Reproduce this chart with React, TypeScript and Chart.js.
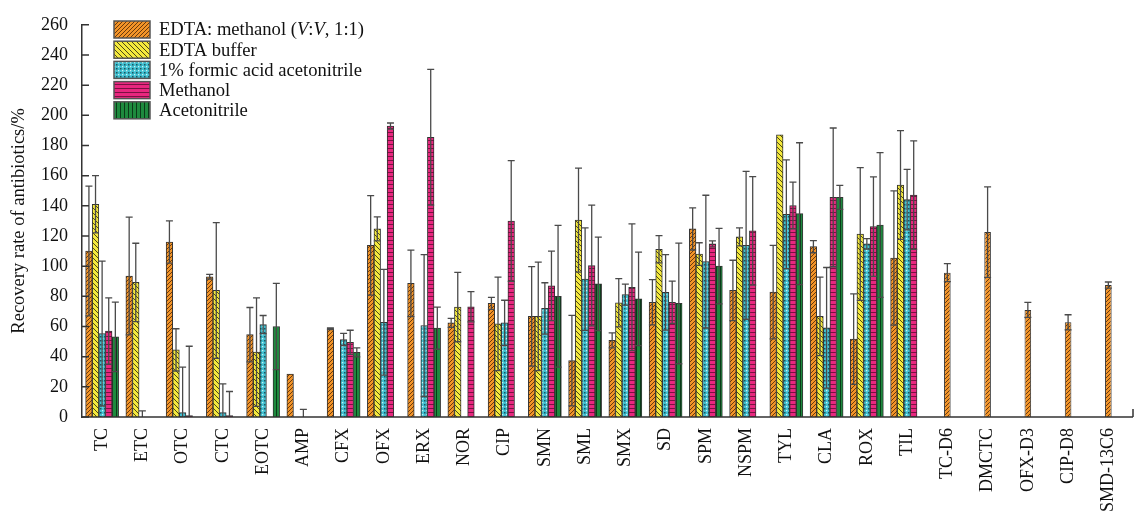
import { useEffect, useRef } from "react";
import { Chart, registerables } from "chart.js";
Chart.register(...registerables);

const categories = ["TC", "ETC", "OTC", "CTC", "EOTC", "AMP", "CFX", "OFX", "ERX", "NOR", "CIP", "SMN", "SML", "SMX", "SD", "SPM", "NSPM", "TYL", "CLA", "ROX", "TIL", "TC-D6", "DMCTC", "OFX-D3", "CIP-D8", "SMD-13C6"];
const yTickValues = [0, 20, 40, 60, 80, 100, 120, 140, 160, 180, 200, 220, 240, 260];

const seriesNames = ["EDTA: methanol (V:V, 1:1)", "EDTA buffer", "1% formic acid acetonitrile", "Methanol", "Acetonitrile"];

// EDTA: methanol (all 26 categories)
const edtaMethanol = [110, 93.5, 116, 93, 54.6, 28.4, 58.5, 113.8, 88.6, 62.4, 75.3, 66.7, 37.4, 50.8, 76.1, 124.7, 83.9, 82.8, 112.9, 51.6, 105.4, 95.7, 122.6, 71, 62.8, 87.5];
const edtaMethanolErr = [43, 39, 14, 1.5, 18, 0, 0.5, 33, 22, 3, 4, 33, 30, 5, 15, 14, 20, 31, 4, 30, 44.5, 6, 30, 5, 5, 2];

const edtaBuffer = [141, 89.2, 44.5, 83.9, 43, null, null, 124.7, null, 72.9, 61.7, 66.7, 130.5, 75.7, 111.2, 108, 119.4, 187.1, 66.7, 121.3, 153.8, null, null, null, null, null];
const edtaBufferErr = [19, 26, 14, 45, 36, null, null, 8, null, 23, 31, 36, 34.5, 16, 9, 7.5, 6, 0, 26, 44, 36, null, null, null, null, null];

const formicAcn = [55.3, 0, 3, 3, 61.3, 0, 51.4, 62.8, 60.6, null, 62.4, 72, 91.4, 81.1, 82.6, 103, 113.8, 134.4, 59.1, 114.8, 144.1, null, null, null, null, null];
const formicAcnErr = [48, 4, 30, 19, 6, 5, 4, 35, 47, null, 15, 17, 34, 7, 25, 44, 49, 36, 40, 3.5, 20, null, null, null, null, null];

const methanol = [57, null, 0.9, 0.9, null, null, 49.5, 192.9, 185.4, 73.1, 129.9, 86.9, 100.4, 86, 76.1, 114.8, 123.4, 140.2, 145.6, 126.2, 147.1, null, null, null, null, null];
const methanolErr = [22, null, 46, 16, null, null, 8, 2, 45, 10, 40, 23, 40, 42, 14, 2, 36, 15.5, 46, 33, 36, null, null, null, null, null];

const acetonitrile = [53.1, null, null, null, 60, null, 42.8, null, 58.9, null, null, 80, 88.2, 78.3, 75.3, 100, null, 134.8, 145.6, 127.3, null, null, null, null, null, null];
const acetonitrileErr = [23, null, null, null, 28.6, null, 3, null, 14, null, null, 47, 31, 31, 40, 25, null, 47, 8, 48, null, null, null, null, null, null];

// the last five categories (labelled standards) only carry a single centred bar
const singleBarFrom = 21;

const FONT = "'Liberation Serif', 'Times New Roman', serif";

function makePattern(w: number, h: number, bg: string, draw: (g: CanvasRenderingContext2D, w: number, h: number) => void) {
  const c = document.createElement("canvas");
  c.width = w;
  c.height = h;
  const g = c.getContext("2d")!;
  g.fillStyle = bg;
  g.fillRect(0, 0, w, h);
  draw(g, w, h);
  return g.createPattern(c, "repeat")!;
}

function buildPatterns() {
  const orange = makePattern(4, 4, "#F39428", (g, w, h) => {
    g.strokeStyle = "#6a3a0c";
    g.lineWidth = 1;
    for (const o of [-w, 0, w]) {
      g.beginPath();
      g.moveTo(o, h);
      g.lineTo(o + w, 0);
      g.stroke();
    }
  });
  const yellow = makePattern(5, 5, "#F4E93C", (g, w, h) => {
    g.strokeStyle = "#4d4718";
    g.lineWidth = 1;
    for (const o of [-w, 0, w]) {
      g.beginPath();
      g.moveTo(o, 0);
      g.lineTo(o + w, h);
      g.stroke();
    }
  });
  const cyan = makePattern(4, 4, "#40BFCF", (g) => {
    g.fillStyle = "#1d5560";
    g.fillRect(0, 0, 1.5, 1.5);
    g.fillStyle = "#c8f2f6";
    g.fillRect(2, 2, 1.3, 1.3);
  });
  const magenta = makePattern(4, 4, "#E8277F", (g) => {
    g.fillStyle = "#7a1242";
    g.fillRect(0, 0, 4, 1);
  });
  const green = makePattern(4, 4, "#1E8A3E", (g) => {
    g.fillStyle = "#0b3a19";
    g.fillRect(0, 0, 1, 4);
  });
  return [orange, yellow, cyan, magenta, green];
}

const errorBarPlugin = {
  id: "errorBars",
  afterDatasetsDraw(chart: any) {
    const ctx = chart.ctx as CanvasRenderingContext2D;
    const ys = chart.scales.y;
    const area = chart.chartArea;
    ctx.save();
    ctx.beginPath();
    ctx.rect(area.left, area.top - 10, area.right - area.left, area.bottom - area.top + 10);
    ctx.clip();
    ctx.strokeStyle = "#4a4a4a";
    ctx.lineWidth = 1.3;
    chart.data.datasets.forEach((ds: any, i: number) => {
      const meta = chart.getDatasetMeta(i);
      if (meta.hidden) return;
      meta.data.forEach((el: any, j: number) => {
        const v = ds.data[j];
        const e = ds.errors ? ds.errors[j] : null;
        if (v == null || !e) return;
        const x = el.x;
        const yt = ys.getPixelForValue(v + e);
        const yb = ys.getPixelForValue(Math.max(v - e, 0));
        ctx.beginPath();
        ctx.moveTo(x, yt);
        ctx.lineTo(x, yb);
        ctx.moveTo(x - 3.5, yt);
        ctx.lineTo(x + 3.5, yt);
        if (v - e > 0) {
          ctx.moveTo(x - 3.5, yb);
          ctx.lineTo(x + 3.5, yb);
        }
        ctx.stroke();
      });
    });
    ctx.restore();
  },
};

const axesAndLegendPlugin = {
  id: "axesLegend",
  afterDraw(chart: any) {
    const ctx = chart.ctx as CanvasRenderingContext2D;
    const area = chart.chartArea;
    const ys = chart.scales.y;
    ctx.save();
    // x axis line with end tick
    ctx.strokeStyle = "#333";
    ctx.lineWidth = 1.5;
    ctx.beginPath();
    ctx.moveTo(area.left, area.bottom);
    ctx.lineTo(1133, area.bottom);
    ctx.moveTo(1133, area.bottom);
    ctx.lineTo(1133, area.bottom - 8);
    ctx.stroke();
    // inward y ticks
    ctx.beginPath();
    for (const v of yTickValues) {
      const y = ys.getPixelForValue(v);
      ctx.moveTo(area.left, y);
      ctx.lineTo(area.left + 7, y);
    }
    ctx.stroke();

    // legend
    const bx = 114;
    const by = 21;
    const step = 20.2;
    const bw = 36;
    const bh = 17;
    const fs = 18.6;
    ctx.font = `${fs}px ${FONT}`;
    ctx.textBaseline = "middle";
    ctx.textAlign = "left";
    for (let i = 0; i < 5; i++) {
      const ds = chart.data.datasets[i];
      const y0 = by + i * step;
      ctx.fillStyle = ds.backgroundColor;
      ctx.fillRect(bx, y0, bw, bh);
      ctx.strokeStyle = "#555";
      ctx.lineWidth = 1.5;
      ctx.strokeRect(bx, y0, bw, bh);
      ctx.fillStyle = "#111";
      const ty = y0 + bh / 2 + 1;
      if (i === 0) {
        const parts: [string, boolean][] = [["EDTA: methanol (", false], ["V", true], [":", false], ["V", true], [", 1:1)", false]];
        let x = 159;
        for (const [t, it] of parts) {
          ctx.font = `${it ? "italic " : ""}${fs}px ${FONT}`;
          ctx.fillText(t, x, ty);
          x += ctx.measureText(t).width;
        }
        ctx.font = `${fs}px ${FONT}`;
      } else {
        ctx.fillText(seriesNames[i], 159, ty);
      }
    }
    ctx.restore();
  },
};

export default function App() {
  const ref = useRef<HTMLCanvasElement | null>(null);
  useEffect(() => {
    const canvas = ref.current!;
    const patterns = buildPatterns();
    const values = [edtaMethanol, edtaBuffer, formicAcn, methanol, acetonitrile];
    const errs = [edtaMethanolErr, edtaBufferErr, formicAcnErr, methanolErr, acetonitrileErr];
    const grouped = values.map((vals, i) => ({
      label: seriesNames[i],
      data: vals.map((v, j) => (j < singleBarFrom ? v : null)),
      errors: errs[i].map((v, j) => (j < singleBarFrom ? v : null)),
      backgroundColor: patterns[i],
      borderColor: "#333",
      borderWidth: 1,
      barThickness: 6.6,
    }));
    const single = {
      label: seriesNames[0] + " (labelled)",
      data: edtaMethanol.map((v, j) => (j >= singleBarFrom ? v : null)),
      errors: edtaMethanolErr.map((v, j) => (j >= singleBarFrom ? v : null)),
      backgroundColor: patterns[0],
      borderColor: "#333",
      borderWidth: 1,
      grouped: false,
      maxBarThickness: 6.6,
    };
    const chart = new Chart(canvas, {
      type: "bar",
      data: { labels: categories, datasets: [...grouped, single] as any },
      options: {
        responsive: false,
        animation: false,
        devicePixelRatio: 1,
        layout: { padding: { top: 15, right: 3, left: 0, bottom: 0 } },
        plugins: { legend: { display: false }, tooltip: { enabled: false } },
        scales: {
          x: {
            type: "category",
            grid: { display: false, drawTicks: false },
            border: { display: false },
            ticks: {
              autoSkip: false,
              maxRotation: 90,
              minRotation: 90,
              padding: 11,
              color: "#111",
              font: { family: FONT, size: 18 },
            },
            afterFit: (s: any) => {
              s.height = 96;
            },
          },
          y: {
            min: 0,
            max: 260,
            grid: { display: false, drawTicks: false },
            border: { display: true, color: "#333", width: 1.5 },
            ticks: {
              stepSize: 20,
              padding: 14,
              color: "#111",
              font: { family: FONT, size: 18 },
            },
            title: {
              display: true,
              text: "Recovery rate of antibiotics/%",
              color: "#111",
              font: { family: FONT, size: 18.5 },
              padding: { top: 8, bottom: 0 },
            },
            afterFit: (s: any) => {
              s.width = 82;
            },
          },
        },
      },
      plugins: [errorBarPlugin, axesAndLegendPlugin],
    });
    return () => chart.destroy();
  }, []);
  return (
    <div style={{ position: "absolute", left: 0, top: 0, width: 1141, height: 513, background: "#fff" }}>
      <canvas ref={ref} width={1141} height={513} style={{ display: "block" }} />
    </div>
  );
}
